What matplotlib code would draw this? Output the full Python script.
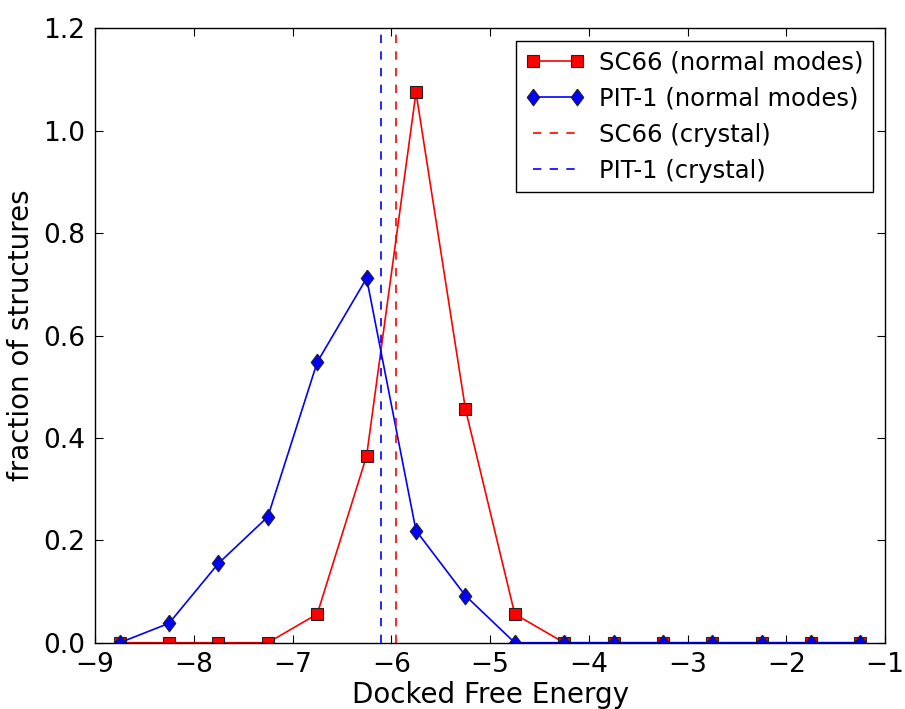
import matplotlib
matplotlib.use('Agg')
import matplotlib.pyplot as plt
import numpy as np

# bin centres of docked free energy histogram
energy = [-8.75, -8.25, -7.75, -7.25, -6.75, -6.25, -5.75, -5.25,
          -4.75, -4.25, -3.75, -3.25, -2.75, -2.25, -1.75, -1.25]
sc66_nm = [0.0, 0.0, 0.0, 0.0, 0.056, 0.365, 1.075, 0.457,
           0.056, 0.0, 0.0, 0.0, 0.0, 0.0, 0.0, 0.0]
pit1_nm = [0.0, 0.038, 0.155, 0.246, 0.548, 0.712, 0.219, 0.092,
           0.0, 0.0, 0.0, 0.0, 0.0, 0.0, 0.0, 0.0]
sc66_crystal = -5.95
pit1_crystal = -6.10

plt.rcParams['xtick.direction'] = 'in'
plt.rcParams['ytick.direction'] = 'in'
plt.rcParams['xtick.top'] = True
plt.rcParams['ytick.right'] = True

# slightly tall diamond, like the old-style marker in the picture
diamond = [(0, 1), (0.75, 0), (0, -1), (-0.75, 0), (0, 1)]

fig = plt.figure(figsize=(9.05, 7.09), dpi=100)
ax = fig.add_axes([0.105, 0.0935, 0.873, 0.8665])

ax.plot(energy, sc66_nm, color='r', marker='s', ms=8, mec='#222222', mew=0.8,
        lw=1.2, label='SC66 (normal modes)')
ax.plot(energy, pit1_nm, color='b', marker=diamond, ms=12, mec='#222222', mew=0.8,
        lw=1.2, label='PIT-1 (normal modes)')
ax.axvline(sc66_crystal, color='r', ls=(0, (5, 5)), lw=1.2, label='SC66 (crystal)')
ax.axvline(pit1_crystal, color='b', ls=(0, (5, 5)), lw=1.2, label='PIT-1 (crystal)')

ax.set_xlim(-9, -1)
ax.set_ylim(0, 1.2)
ax.set_yticks(np.arange(0, 1.21, 0.2))
ax.set_yticklabels(['%.1f' % v for v in np.arange(0, 1.21, 0.2)])
ax.tick_params(labelsize=19, length=6, width=0.8, pad=7)
for s in ax.spines.values():
    s.set_linewidth(1.0)

ax.set_xlabel('Docked Free Energy', fontsize=20, labelpad=2)
ax.set_ylabel('fraction of structures', fontsize=20, labelpad=6)

leg = ax.legend(loc='upper right', fontsize=17.5, numpoints=2, fancybox=False,
                framealpha=1, edgecolor='black', borderaxespad=0.5,
                handlelength=2.4, handletextpad=0.6, labelspacing=0.5)
leg.get_frame().set_linewidth(1.0)

fig.savefig('out.png', dpi=100)
